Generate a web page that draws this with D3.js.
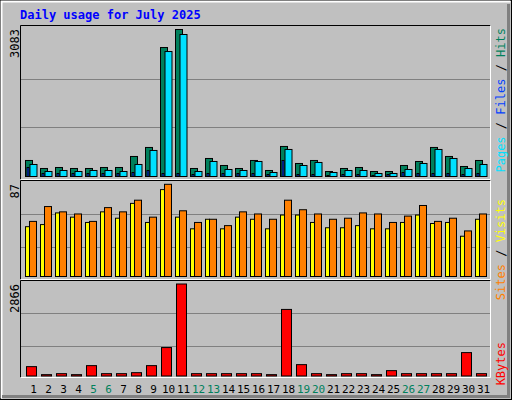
<!DOCTYPE html><html><head><meta charset="utf-8">
<script src="https://cdn.jsdelivr.net/npm/d3@7"></script>
<style>body{margin:0;background:#fff}svg{display:block}text{font-family:"DejaVu Sans Mono",monospace}</style></head><body>
<script>
const days=d3.range(1,32);
const weekend=[5,6,12,13,19,20,26,27];
const hits=[336,168,189,168,168,189,189,420,609,2705,3083,168,378,231,168,336,126,630,273,336,105,168,189,105,105,231,315,609,420,210,336];
const files=[252,105,126,105,126,126,105,252,546,2621,2978,105,315,147,126,315,84,567,231,294,84,126,126,63,63,147,273,567,378,168,252];
const pages=[189,63,63,63,63,63,63,84,126,63,63,42,63,63,63,63,42,336,42,42,21,42,42,21,42,84,63,63,63,42,63];
const sites=[47,49,60,56,51,61,55,69,51,82,56,45,54,45,56,54,45,58,58,51,46,46,48,45,45,51,58,50,51,38,54];
const visits=[52,66,61,59,52,65,61,72,56,87,62,51,54,48,61,59,54,72,63,59,54,55,60,59,51,57,67,52,55,43,59];
const kbytes=[292,42,73,42,323,73,73,104,323,886,2866,73,73,73,73,73,42,2074,354,73,42,73,73,42,167,73,73,73,73,729,73];
const W=512,H=400;
const svg=d3.select("body").append("svg").attr("width",W).attr("height",H);
svg.append("rect").attr("x",0).attr("y",0).attr("width",W).attr("height",H).attr("fill","#C0C0C0");
svg.append("rect").attr("x",0.5).attr("y",0.5).attr("width",W-1).attr("height",H-1).attr("fill","none").attr("stroke","#000");
svg.append("path").attr("d","M1.5,398.5V1.5H510.5").attr("fill","none").attr("stroke","#fff").attr("stroke-width",2);
svg.append("path").attr("d","M2,396.5H508.5V4").attr("fill","none").attr("stroke","#808080").attr("stroke-width",3);
svg.append("text").attr("x",20).attr("y",19).attr("fill","#0000FF").attr("font-weight","bold").attr("font-size",12).text("Daily usage for July 2025");
const x=d3.scaleLinear([1,31],[25.5,475.5]);
function panel(y0,y1){
  svg.append("rect").attr("x",20.5).attr("y",y0+0.5).attr("width",470).attr("height",y1-y0).attr("fill","#C0C0C0");
  svg.append("path").attr("d",`M20.5,${y1+0.5}V${y0+0.5}H490.5`).attr("fill","none").attr("stroke","#000");
  svg.append("path").attr("d",`M490.5,${y0+0.5}V${y1+0.5}H20.5`).attr("fill","none").attr("stroke","#fff");
}
function grid(y,vals){vals.forEach(v=>svg.append("line").attr("x1",21).attr("x2",490).attr("y1",Math.round(y(v))+0.5).attr("y2",Math.round(y(v))+0.5).attr("stroke","#808080"));}
function bars(data,y,dx,w,col){
  svg.append("g").selectAll("rect").data(data).join("rect")
   .attr("x",(d,i)=>x(days[i])+dx).attr("y",d=>y(d)).attr("width",w).attr("height",d=>y(0)-y(d))
   .attr("fill",col).attr("stroke","#000");
}
function vlabel(xp,yp,t,col,anchor){svg.append("text").attr("transform",`translate(${xp},${yp}) rotate(-90)`).attr("text-anchor",anchor).attr("font-size",12).attr("fill",col).text(t);}
// top
panel(25,179);
const y1=d3.scaleLinear([0,3083],[176.5,29.5]);
grid(y1,[1028,2055].map(v=>v*3083/3083));
bars(hits,y1,0,7,"#00805C");
bars(pages,y1,1.5,2,"#0040FF");
bars(files,y1,4.5,7,"#00E0FF");
// middle
panel(180,279);
const y2=d3.scaleLinear([0,87],[276.5,184.3]);
grid(y2,[29.5*87/87*1,62.5].map(v=>v*0.947));
bars(sites,y2,0,4,"#FFFF00");
bars(visits,y2,4,7,"#FF8000");
// bottom
panel(280,377);
const y3=d3.scaleLinear([0,2866],[376,284]);
grid(y3,[930,1960]);
bars(kbytes,y3,1,10,"#FF0000");
// labels
vlabel(19,29,"3083","#000","end");
vlabel(19,184,"87","#000","end");
vlabel(19,284,"2866","#000","end");
const lg=svg.append("text").attr("transform","translate(505,28) rotate(-90)").attr("text-anchor","end").attr("font-size",12);
[["Pages","#00E0FF"],[" / ","#000"],["Files","#0040FF"],[" / ","#000"],["Hits","#00805C"]].forEach(([t,c])=>lg.append("tspan").attr("fill",c).text(t));
const lg2=svg.append("text").attr("transform","translate(505,199) rotate(-90)").attr("text-anchor","end").attr("font-size",12);
[["Sites","#FF8000"],[" / ","#000"],["Visits","#FFFF00"]].forEach(([t,c])=>lg2.append("tspan").attr("fill",c).text(t));
vlabel(505,342,"KBytes","#FF0000","end");
svg.append("g").selectAll("text").data(days).join("text").attr("x",d=>x(d)+8).attr("y",393).attr("text-anchor","middle").attr("font-size",11)
 .attr("fill",d=>weekend.includes(d)?"#00805C":"#000").text(d=>d);
</script></body></html>
